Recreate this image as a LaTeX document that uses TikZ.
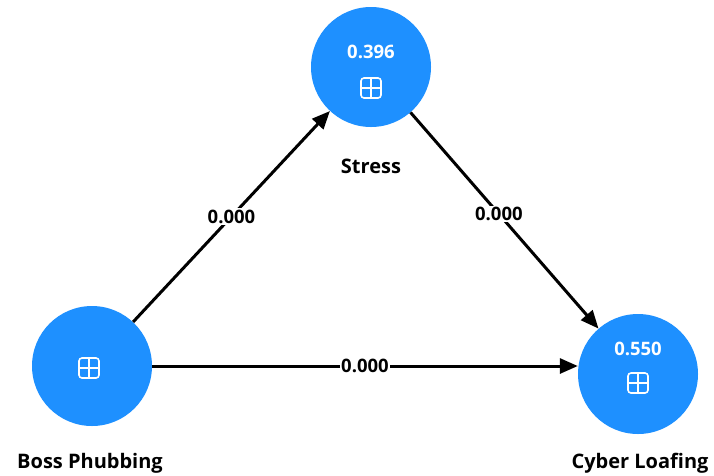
\documentclass[tikz,border=0pt]{standalone}
\usepackage{fontspec}
\setmainfont{Open Sans}
\usetikzlibrary{arrows.meta}
\definecolor{nodeblue}{RGB}{30,144,255}
\tikzset{
  lv/.style={circle, fill=nodeblue, draw=none, minimum size=120pt, inner sep=0pt},
  nm/.style={font=\bfseries\fontsize{20}{24}\selectfont, text=black},
  val/.style={font=\bfseries\fontsize{18.5}{22}\selectfont, text=white},
  pth/.style={line width=3pt, draw=black, -{Triangle[length=18pt,width=15pt]}},
  elab/.style={fill=white, inner sep=1.5pt, font=\bfseries\fontsize{18.5}{22}\selectfont},
  icon/.style={draw=white, line width=1.6pt, rounded corners=3pt, minimum size=20pt, inner sep=0pt,
    path picture={\draw[white, line width=1.6pt] (path picture bounding box.north) -- (path picture bounding box.south)
      (path picture bounding box.west) -- (path picture bounding box.east);}}
}
\begin{document}
\begin{tikzpicture}[x=1pt,y=-1pt]
\useasboundingbox (0,0) rectangle (714,475);
\node[lv] (st) at (371,67) {};
\node[lv] (bp) at (92,366) {};
\node[lv] (cl) at (638,374) {};
\node[val] (stv) at (371,52) {0.396};
\node[icon] (sti) at (371,88) {};
\node[icon] (bpi) at (89,368) {};
\node[val] (clv) at (638,349) {0.550};
\node[icon] (cli) at (638,383) {};
\node[nm] (stn) at (371,166) {Stress};
\node[nm] (bpn) at (90,463) {Boss Phubbing};
\node[nm] (cln) at (640,463) {Cyber Loafing};
\draw[pth] (bp) -- node[elab, pos=0.5] {0.000} (st);
\draw[pth] (st) -- node[elab, pos=0.47] {0.000} (cl);
\draw[pth] (bp) -- node[elab, pos=0.5] {0.000} (cl.west |- bp);
\end{tikzpicture}
\end{document}
